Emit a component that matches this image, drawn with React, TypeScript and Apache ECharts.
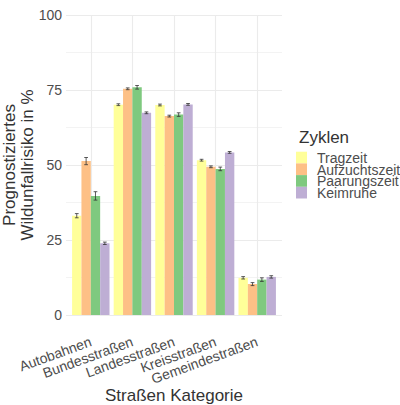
import * as echarts from "echarts";
import React, { useEffect, useRef } from "react";

const categories = ["Autobahnen", "Bundesstraßen", "Landesstraßen", "Kreisstraßen", "Gemeindestraßen"];
const zyklen = ["Tragzeit", "Aufzuchtszeit", "Paarungszeit", "Keimruhe"];
const colors = ["#FFFF99", "#FDC086", "#7FC97F", "#BEAED4"];

const tragzeit = [33.1, 70.1, 70.0, 51.6, 12.4];
const aufzuchtszeit = [51.3, 75.4, 66.3, 49.4, 10.3];
const paarungszeit = [39.7, 75.9, 66.8, 48.7, 11.8];
const keimruhe = [23.9, 67.4, 70.2, 54.2, 12.7];

// Fehlerbalken (+/-)
const tragzeitErr = [0.7, 0.3, 0.3, 0.3, 0.4];
const aufzuchtszeitErr = [1.2, 0.3, 0.3, 0.3, 0.5];
const paarungszeitErr = [1.4, 0.6, 0.6, 0.6, 0.6];
const keimruheErr = [0.4, 0.3, 0.3, 0.3, 0.4];

const yTicks = [0, 25, 50, 75, 100];

const font = "Liberation Sans";
const textGray = "#4d4d4d";
const gridGray = "#ebebeb";

const WildunfallChart: React.FC = () => {
    const chartRef = useRef<HTMLDivElement>(null);

    useEffect(() => {
        document.body.style.margin = "0";
        if (!chartRef.current) return;
        const chart = echarts.init(chartRef.current, undefined, { renderer: "svg" });

        const values = [tragzeit, aufzuchtszeit, paarungszeit, keimruhe];
        const errs = [tragzeitErr, aufzuchtszeitErr, paarungszeitErr, keimruheErr];
        const errData: number[][] = [];
        values.forEach((vals, s) =>
            vals.forEach((v, c) => errData.push([c, s, v - errs[s][c], v + errs[s][c]]))
        );

        // Legende wie bei ggplot: Kästchen dicht untereinander
        const keyH = 11.7;
        const legendTop = 151.7;
        const legendItems = zyklen.flatMap((name, i) => [
            {
                type: "rect",
                left: 296,
                top: legendTop + i * keyH,
                shape: { width: 11, height: keyH },
                style: { fill: colors[i] },
            },
            {
                type: "text",
                x: 317,
                y: legendTop + i * keyH + keyH / 2 + 0.5,
                style: {
                    text: name,
                    fontFamily: font,
                    fontSize: 14,
                    fill: textGray,
                    verticalAlign: "middle",
                    align: "left",
                },
            },
        ]);

        chart.setOption({
            animation: false,
            backgroundColor: "#ffffff",
            textStyle: { fontFamily: font },
            title: {
                text: "Zyklen",
                left: 294,
                top: 124,
                textStyle: { fontFamily: font, fontSize: 17, fontWeight: "normal", color: "#333333" },
            },
            graphic: legendItems,
            grid: [
                { left: 66, right: 118, top: 15, bottom: 90, outerBoundsMode: "none" },
                { left: 70, right: 122, top: 15, bottom: 90, outerBoundsMode: "none" },
            ],
            xAxis: [
                { type: "value", gridIndex: 0, show: false, min: 0, max: 1 },
                {
                    type: "category",
                    gridIndex: 1,
                    data: categories,
                    axisLine: { show: false },
                    axisTick: { show: false },
                    axisLabel: { interval: 0, rotate: 20, margin: 26, fontSize: 14, color: textGray, fontFamily: font },
                    splitLine: { show: true, interval: 0, alignWithLabel: true, lineStyle: { color: gridGray, width: 1.1 } },
                    name: "Straßen Kategorie",
                    nameLocation: "middle",
                    nameGap: 72,
                    nameMoveOverlap: false,
                    nameTextStyle: { fontSize: 17, color: "#333333", fontFamily: font },
                },
            ],
            yAxis: [
                {
                    type: "value",
                    gridIndex: 0,
                    min: yTicks[0],
                    max: yTicks[yTicks.length - 1],
                    interval: 25,
                    axisLine: { show: false },
                    axisTick: { show: false },
                    axisLabel: { margin: 4, fontSize: 14, color: textGray, fontFamily: font },
                    splitLine: { lineStyle: { color: gridGray, width: 1.1 } },
                    minorTick: { show: false, splitNumber: 2 },
                    minorSplitLine: { show: true, lineStyle: { color: gridGray, width: 0.6 } },
                    name: "Prognostiziertes\nWildunfallrisiko in %",
                    nameLocation: "middle",
                    nameRotate: 90,
                    nameGap: 30,
                    nameMoveOverlap: false,
                    nameTextStyle: { fontSize: 17, color: "#333333", fontFamily: font, lineHeight: 18 },
                },
                { type: "value", gridIndex: 1, min: 0, max: 100, show: false },
            ],
            series: [
                ...zyklen.map((name, s) => ({
                    name,
                    type: "bar",
                    xAxisIndex: 1,
                    yAxisIndex: 1,
                    data: values[s],
                    barGap: "0%",
                    barCategoryGap: "10%",
                    itemStyle: { color: colors[s] },
                })),
                {
                    type: "custom",
                    xAxisIndex: 1,
                    yAxisIndex: 1,
                    data: errData,
                    encode: { x: 0, y: [2, 3] },
                    z: 10,
                    renderItem: (_params: any, api: any) => {
                        const c = api.value(0);
                        const s = api.value(1);
                        const lo = api.coord([c, api.value(2)]);
                        const hi = api.coord([c, api.value(3)]);
                        const band = api.size([1, 0])[0];
                        const bw = (band * 0.9) / 4;
                        const x = lo[0] + (s - 1.5) * bw;
                        const cap = bw * 0.2;
                        const style = { stroke: "#333333", lineWidth: 0.8 };
                        return {
                            type: "group",
                            children: [
                                { type: "line", shape: { x1: x, y1: lo[1], x2: x, y2: hi[1] }, style },
                                { type: "line", shape: { x1: x - cap, y1: lo[1], x2: x + cap, y2: lo[1] }, style },
                                { type: "line", shape: { x1: x - cap, y1: hi[1], x2: x + cap, y2: hi[1] }, style },
                            ],
                        };
                    },
                },
            ],
        });

        return () => { chart.dispose(); };
    }, []);

    return <div ref={chartRef} style={{ width: 400, height: 405 }} />;
};

export default function App() {
    return <WildunfallChart />;
}
